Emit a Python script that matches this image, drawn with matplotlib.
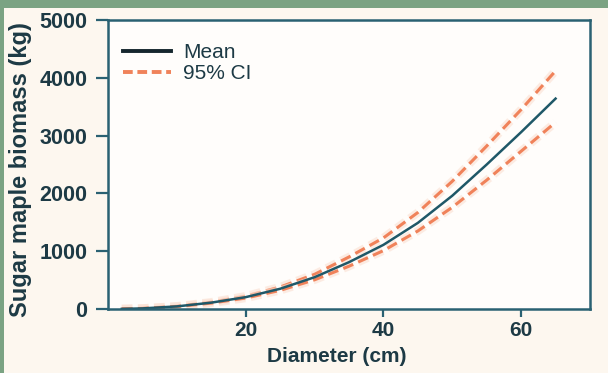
import matplotlib.pyplot as plt
import matplotlib.patheffects as pe
from matplotlib.patches import Rectangle

plt.rcParams['font.family'] = ['Liberation Sans', 'DejaVu Sans']

# data (diameter in cm, biomass in kg)
diameter = [2, 5, 10, 15, 20, 25, 30, 35, 40, 45, 50, 55, 60, 65]
mean_biomass = [2, 10, 45, 110, 205, 350, 550, 810, 1110, 1490, 1960, 2500, 3060, 3640]
ci_upper = [2, 11, 48, 118, 222, 380, 600, 900, 1230, 1670, 2210, 2820, 3450, 4120]
ci_lower = [2, 9, 42, 102, 190, 322, 505, 740, 1010, 1350, 1760, 2230, 2730, 3230]

x_ticks = [20, 40, 60]
y_ticks = [0, 1000, 2000, 3000, 4000, 5000]

teal = '#2a6172'
dark = '#1d3a45'
orange = '#f0825a'

fig = plt.figure(figsize=(6.08, 3.73), dpi=100)
fig.patch.set_facecolor('#7ba383')
# cream panel inside the green frame
fig.patches.append(Rectangle((4 / 608, 0), 1, 1 - 8 / 373, transform=fig.transFigure,
                             facecolor='#fdf7ef', edgecolor='none', zorder=-10))

ax = fig.add_axes([108 / 608, 1 - 309 / 373, (590 - 108) / 608, (309 - 20) / 373])
ax.set_zorder(1)
ax.set_facecolor('#fffdfb')

halo = [pe.Stroke(linewidth=6, foreground='#fbe0d2', alpha=0.6), pe.Normal()]
ax.plot(diameter, ci_upper, color=orange, lw=2.2, ls=(0, (3.5, 1.8)), path_effects=halo)
ax.plot(diameter, ci_lower, color=orange, lw=2.2, ls=(0, (3.5, 1.8)), path_effects=halo)
ax.plot(diameter, mean_biomass, color='#1f5868', lw=1.8)

# legend drawn with separate handles so the mean line looks darker/thicker
h_mean, = ax.plot([], [], color='#15262d', lw=2.8)
h_ci, = ax.plot([], [], color=orange, lw=2.8, ls=(0, (2.5, 1.2)))
leg = ax.legend([h_mean, h_ci], ['Mean', '95% CI'], loc='upper left', frameon=False,
                fontsize=15, handlelength=2.3, handletextpad=0.6, labelspacing=0.1,
                borderaxespad=0.3, bbox_to_anchor=(0.0, 0.97))
for t in leg.get_texts():
    t.set_color(dark)

ax.set_xlim(0, 70)
ax.set_ylim(0, 5000)
ax.set_xticks(x_ticks)
ax.set_yticks(y_ticks)

for s in ax.spines.values():
    s.set_color(teal)
    s.set_linewidth(1.8)

ax.tick_params(axis='y', direction='out', length=9, width=1.6, color=teal,
               labelsize=15.5, labelcolor=dark, pad=6)
ax.tick_params(axis='x', direction='out', length=6, width=1.6, color=teal,
               labelsize=15, labelcolor=dark, pad=3)
for lbl in ax.get_xticklabels() + ax.get_yticklabels():
    lbl.set_fontweight('bold')

ax.set_xlabel('Diameter (cm)', fontsize=15, fontweight='bold', color=dark)
ax.set_ylabel('Sugar maple biomass (kg)', fontsize=17, fontweight='bold', color=dark)
ax.xaxis.set_label_coords(0.475, -0.13)
ax.yaxis.set_label_coords(-0.158, 0.484)

fig.savefig('out.png', dpi=100, facecolor=fig.get_facecolor())
